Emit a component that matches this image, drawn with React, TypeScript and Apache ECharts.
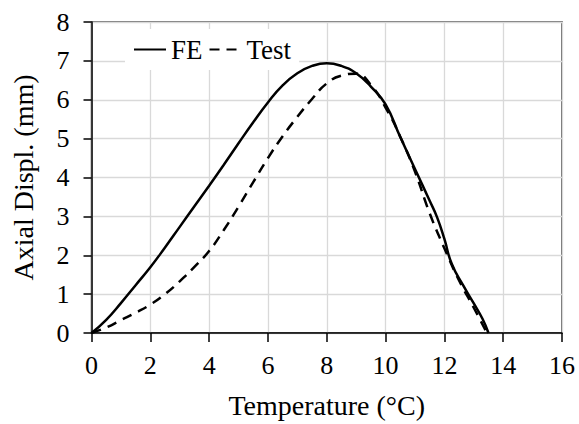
import React, { useEffect, useRef } from "react";
import * as echarts from "echarts";

const feTemp = [0, 0.5, 1, 1.5, 2, 2.5, 3, 3.5, 4, 4.5, 5, 5.5, 6, 6.5, 7, 7.5, 8, 8.5, 9, 9.5, 10, 10.5, 11, 11.5, 11.75, 12, 12.25, 12.65, 13, 13.3, 13.5];
const feDisp = [0, 0.34, 0.77, 1.23, 1.69, 2.2, 2.73, 3.26, 3.79, 4.33, 4.88, 5.42, 5.93, 6.37, 6.68, 6.87, 6.94, 6.87, 6.68, 6.34, 5.88, 5.04, 4.22, 3.4, 2.98, 2.42, 1.78, 1.21, 0.76, 0.36, 0];

const testTemp = [0, 0.5, 1, 1.5, 2, 2.5, 3, 3.5, 4, 4.5, 5, 5.5, 6, 6.5, 7, 7.5, 8, 8.5, 9, 9.5, 10, 10.5, 11, 11.5, 12, 12.5, 13, 13.45];
const testDisp = [0, 0.14, 0.33, 0.52, 0.73, 1.0, 1.33, 1.7, 2.11, 2.65, 3.25, 3.88, 4.5, 5.06, 5.56, 6.02, 6.42, 6.62, 6.67, 6.38, 5.8, 5.05, 4.15, 3.08, 2.18, 1.35, 0.65, 0];

const xTicks = { min: 0, max: 16, interval: 2 };
const yTicks = { min: 0, max: 8, interval: 1 };

const FONT = "Liberation Serif";
const TICK_SIZE = 26;

export default function App() {
  const ref = useRef<HTMLDivElement>(null);
  useEffect(() => {
    if (!ref.current) return;
    const chart = echarts.init(ref.current, null, { renderer: "svg" });
    const fe = feTemp.map((t, i) => [t, feDisp[i]]);
    const test = testTemp.map((t, i) => [t, testDisp[i]]);
    const tickLabel = (margin: number) => ({
      fontFamily: FONT,
      fontSize: TICK_SIZE,
      color: "#000",
      margin,
      formatter: "{v|{value}}",
      rich: { v: { fontFamily: FONT, fontSize: TICK_SIZE, color: "#000" } },
    });
    chart.setOption({
      animation: false,
      backgroundColor: "#fff",
      textStyle: { fontFamily: FONT, color: "#000" },
      grid: {
        left: 91.5,
        right: 17,
        top: 22,
        bottom: 90,
        containLabel: false,
        show: true,
        borderColor: "#404040",
        borderWidth: 1.5,
        backgroundColor: "transparent",
      },
      legend: {
        left: 125,
        top: 29,
        padding: [7, 8, 7, 8],
        itemGap: 6,
        itemWidth: 32,
        itemHeight: 14,
        backgroundColor: "#fff",
        itemStyle: { opacity: 0 },
        textStyle: { fontFamily: FONT, fontSize: 27, color: "#000" },
        data: ["FE", "Test"],
      },
      xAxis: {
        type: "value",
        min: xTicks.min,
        max: xTicks.max,
        interval: xTicks.interval,
        name: "Temperature (°C)",
        nameLocation: "middle",
        nameGap: 58,
        nameTextStyle: { fontFamily: FONT, fontSize: 28, color: "#000" },
        axisLine: { show: true, onZero: false, lineStyle: { color: "#000", width: 1.5 } },
        axisTick: { show: true, inside: false, length: 9, lineStyle: { color: "#000", width: 1.5 } },
        axisLabel: tickLabel(19),
        splitLine: { show: true, lineStyle: { color: "#d9d9d9", width: 1.3 } },
      },
      yAxis: {
        type: "value",
        min: yTicks.min,
        max: yTicks.max,
        interval: yTicks.interval,
        name: "Axial Displ. (mm)",
        nameLocation: "middle",
        nameGap: 54,
        nameTextStyle: { fontFamily: FONT, fontSize: 28, color: "#000" },
        axisLine: { show: true, onZero: false, lineStyle: { color: "#000", width: 1.5 } },
        axisTick: { show: true, inside: false, length: 8, lineStyle: { color: "#000", width: 1.5 } },
        axisLabel: tickLabel(22),
        splitLine: { show: true, lineStyle: { color: "#d9d9d9", width: 1.3 } },
      },
      series: [
        {
          name: "FE",
          type: "line",
          data: fe,
          smooth: 0.5,
          symbol: "none",
          lineStyle: { color: "#000", width: 2.5, type: "solid" },
          itemStyle: { color: "#000" },
          z: 3,
        },
        {
          name: "Test",
          type: "line",
          data: test,
          smooth: 0.5,
          symbol: "none",
          lineStyle: { color: "#000", width: 2.5, type: [10, 7] },
          itemStyle: { color: "#000" },
          z: 2,
        },
      ],
    });
    return () => chart.dispose();
  }, []);
  return <div ref={ref} style={{ width: 579, height: 424, position: "absolute", left: 0, top: 0 }} />;
}
